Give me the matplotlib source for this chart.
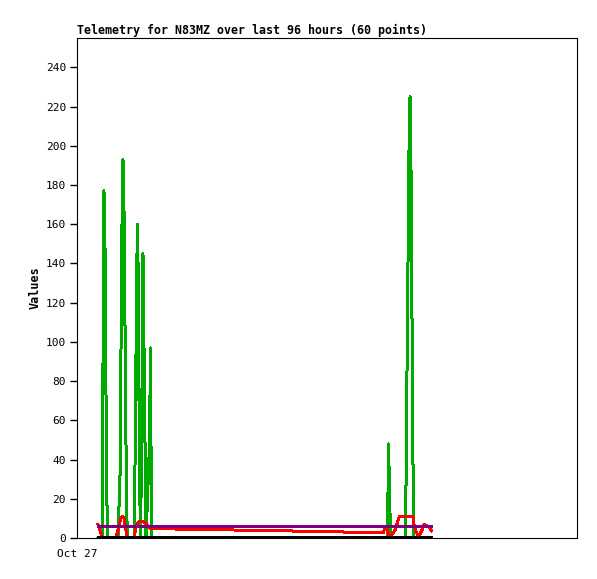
import matplotlib
matplotlib.use('agg')
import matplotlib.pyplot as plt
import matplotlib.dates as mdates
from datetime import datetime, timedelta

start = datetime(2023, 10, 27)

# sample times, hours after Oct 27 00:00
hours = [4.03, 4.80, 4.99, 5.18, 5.38, 5.53, 5.68, 5.86,
         7.49, 7.87, 8.26, 8.45, 8.64, 8.83, 9.02, 9.18, 9.33, 9.48, 9.66,
         10.94, 11.10, 11.29, 11.44, 11.62, 11.81, 11.96, 12.19, 12.38, 12.67,
         13.06, 13.25, 13.92, 14.11, 14.30,
         25.34, 36.29, 47.23, 58.75, 59.23,
         59.62, 59.81, 60.00, 60.19, 61.06, 61.63, 61.92,
         62.98, 63.17, 63.36, 63.55, 63.74, 63.94, 64.13, 64.32, 64.51, 64.70,
         64.99, 65.57, 66.24, 66.62, 67.58, 68.06]

green = [0, 0, 88, 177, 147, 88, 30, 0,
         0, 0, 32, 97, 160, 193, 168, 120, 72, 25, 0,
         0, 27, 80, 133, 160, 120, 40, 0, 40, 145,
         48, 0, 48, 97, 0,
         0, 0, 0, 0, 0,
         0, 48, 25, 0, 0, 0, 0,
         0, 27, 85, 140, 197, 225, 187, 112, 38, 0,
         0, 0, 0, 0, 0, 0]

red = [7, 0.5, 0, 0, 0, 0, 0, 0,
       0, 4, 8.3, 10, 11, 11, 10, 7.5, 5, 2.5, 0.5,
       0, 2.5, 5, 6.5, 7.5, 8.2, 8.2, 8.2, 8.2, 8.2,
       8, 7.5, 5.2, 4.8, 4.8,
       4.3, 3.8, 3.3, 2.6, 5.8,
       4, 2, 0.7, 0.7, 4, 8.8, 11.2,
       11.2, 11.2, 11.2, 11.2, 11.2, 11.2, 11.2, 11, 10.6, 7,
       4, 0.5, 4, 7, 5.8, 3.7]

purple = [6.2] * len(hours)
black = [0.3] * len(hours)

times = [start + timedelta(hours=h) for h in hours]

fig = plt.figure(figsize=(5.97, 5.79), dpi=100)
ax = fig.add_axes([77 / 597, 41 / 579, 500 / 597, 500 / 579])

ax.plot(times, green, color='#00aa00', lw=1.44, antialiased=False)
ax.plot(times, red, color='#ff0000', lw=1.44, antialiased=False)
ax.plot(times, purple, color='#7f007f', lw=1.8, antialiased=False)
ax.plot(times, black, color='black', lw=1.8, antialiased=False, clip_on=False)

ax.set_xlim(start, start + timedelta(hours=96))
ax.set_ylim(0, 255)
ax.set_yticks(range(0, 241, 20))
ax.set_xticks([start])
ax.xaxis.set_major_formatter(mdates.DateFormatter('%b %d'))

mono = 'DejaVu Sans Mono'
for lab in ax.get_xticklabels() + ax.get_yticklabels():
    lab.set_fontfamily(mono)
    lab.set_fontsize(8)
ax.tick_params(axis='y', length=5, width=1, pad=3)
ax.tick_params(axis='x', length=0, pad=8)
for s in ax.spines.values():
    s.set_linewidth(0.8)

ax.set_ylabel('Values', fontfamily=mono, fontweight='bold', fontsize=8.5, labelpad=3)
ax.set_title('Telemetry for N83MZ over last 96 hours (60 points)', loc='left',
             fontfamily=mono, fontweight='bold', fontsize=8.4, pad=3)

fig.savefig('out.png', dpi=100)
